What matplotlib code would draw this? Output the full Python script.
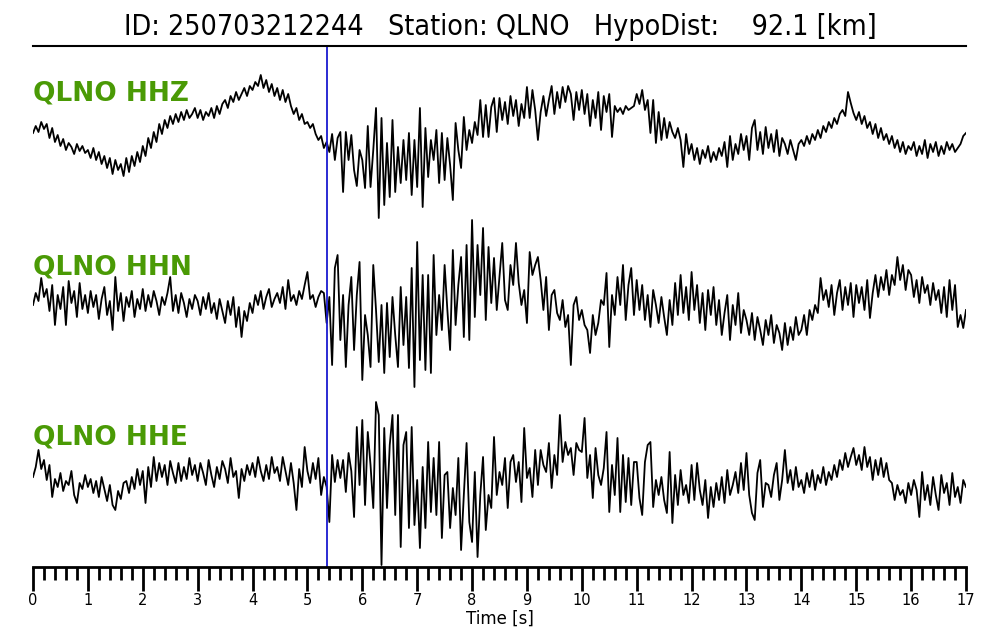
import numpy as np
import matplotlib
matplotlib.use("Agg")
import matplotlib.pyplot as plt

# datos (amplitud relativa, 20 muestras por segundo)
dt = 0.05
t_pick = 5.36
title = "ID: 250703212244   Station: QLNO   HypoDist:    92.1 [km]"
labels = ["QLNO HHZ", "QLNO HHN", "QLNO HHE"]

hhz = [
    -3, 4, -2, 8, 1, 6, -8, 2, -12, -5, -16, -9, -20, -13, -17, -24, -14, -21, -16, -23,
    -20, -28, -18, -30, -22, -34, -26, -38, -28, -44, -30, -40, -34, -46, -28, -42, -26, -36, -22, -32,
    -16, -26, -8, -18, -2, -12, 6, -4, 10, 2, 14, 6, 16, 8, 18, 10, 20, 12, 16, 22,
    12, 20, 10, 18, 14, 22, 12, 24, 16, 26, 30, 22, 34, 28, 38, 30, 36, 42, 34, 44,
    40, 48, 44, 55, 42, 50, 38, 46, 34, 42, 30, 40, 28, 36, 24, 16, 22, 10, 16, 6,
    8, 2, 6, -4, -10, -6, -18, -12, -22, -4, -30, -8, -2, -62, -2, -30, -5, -40, -56, -20,
    -30, -58, 4, -57, -20, 22, -88, 12, -75, -13, -67, 10, -62, -17, -53, -10, -50, -3, -65, -10,
    -57, 22, -77, 2, -47, -10, -30, 0, -53, -3, -50, -8, -35, -70, 7, -20, -38, 13, -20, 0,
    -13, 8, -5, 30, -7, 25, -7, 23, 32, -2, 32, 10, 28, 6, 34, 14, 30, 4, 26, 12,
    43, 12, 40, 20, -10, 18, 34, 14, 30, 44, 16, 38, 22, 43, 28, 44, 36, 10, 38, 20,
    40, 16, 36, 4, 30, 12, 38, 0, 34, 18, 36, -7, 24, 18, 22, 16, 24, 20, 22, 24,
    36, 26, 40, 20, 30, -3, 30, -13, 18, -10, 12, -8, 8, -2, -8, 2, -10, -37, -4, -24,
    -14, -30, -18, -34, -20, -28, -16, -32, -22, -30, -18, -26, -12, -37, -6, -30, -14, -24, -4, -20,
    -6, -30, 2, 10, -20, -2, -24, 3, -18, -4, -22, 0, -26, -8, -14, -24, -10, -20, -30, -14,
    -10, -16, -6, -14, -4, -10, 0, -8, 4, -2, 8, 2, 12, 6, 16, 20, 14, 38, 27, 17,
    10, 18, 6, 14, 2, 8, -4, 6, -8, 2, -10, -4, -14, -6, -18, -10, -22, -12, -24, -16,
    -20, -12, -26, -16, -24, -10, -28, -14, -22, -12, -26, -16, -24, -12, -20, -14, -22, -18, -14, -6,
    -3,
]

hhn = [
    0, 12, 4, 27, 8, 16, -6, 20, -20, 10, -4, 18, -20, 24, 2, 14, -12, 22, -4, 10,
    -8, 14, -2, 10, -14, 6, 18, -10, 4, -25, 28, -6, 12, -16, 8, -2, 14, -12, 6, -4,
    16, -6, 10, -2, 14, 4, -10, 8, 0, 12, 28, -6, 10, -8, 12, 2, -12, 6, -4, 10,
    4, -10, 8, -4, 12, -8, 2, -14, 6, -6, -18, 4, -10, 8, -22, -2, -32, -6, -16, 2,
    -8, 10, 0, 14, -4, 8, 16, -2, 6, 12, 2, 18, -4, 25, 4, 10, 0, 14, 6, 20,
    33, 6, 10, -2, 8, 14, 12, -18, 8, -60, 37, 50, -35, 10, -62, 0, 28, -45, 10, 43,
    -75, -10, -30, -62, 40, -5, -57, 0, -68, 2, -52, 8, -30, -62, 18, -40, 8, -63, 37, -82,
    63, -55, 30, -65, 30, -68, 50, -30, 10, -25, 40, -5, -45, 55, -20, 20, 48, -32, 60, -35,
    85, -12, 60, 10, 77, -15, 58, 2, 47, -5, 28, 62, 5, -5, 40, 20, 62, 22, 0, 15,
    -18, 53, 30, 40, 48, 25, -5, 28, -25, 10, 15, -8, -15, 5, -22, -10, -60, 0, 8, -15,
    -5, -20, -25, -48, -10, -30, -18, 5, 0, 32, -42, 10, -10, 28, 0, 40, -15, 20, 37, -10,
    25, -5, 20, -15, 10, -22, 15, 0, -18, 8, -12, -30, 5, -20, 22, -10, 30, -8, 18, -15,
    33, -5, 20, -18, 12, -25, 15, -10, 18, -20, 5, -30, -8, 10, -35, 0, -20, 12, -28, -5,
    -15, -30, -8, -35, -12, -25, -40, -15, -30, -10, -38, -20, -28, -45, -18, -40, -22, -35, -12, -30,
    -25, -10, -30, -5, -15, 0, -8, 27, 5, 15, -2, 20, -10, 12, 25, -5, 18, 0, 22, -12,
    20, 2, 18, -5, 25, -13, 12, 30, 8, 28, 15, 35, 10, 30, 20, 48, 25, 40, 15, 35,
    30, 8, 25, 2, 28, 12, 20, 0, 22, 5, 15, -8, 18, -12, 25, -5, 20, -22, -10, -23,
    -5,
]

hhe = [
    -2, 8, 25, 6, 15, -5, 10, -22, -4, -12, 2, -16, -6, -10, 4, -20, -28, -8, -14, 0,
    -12, -4, -18, -6, -22, -2, -14, -26, -10, -30, -35, -16, -24, -8, -6, -18, -2, -14, 6, -10,
    4, -28, 8, -12, 18, -6, 12, -2, 10, -10, 14, 2, -8, 12, -6, 8, -4, 17, 0, 10,
    -6, 12, 2, -10, 15, 0, -12, 8, -4, 14, 6, -8, 17, -2, 4, -23, 6, -6, 10, 0,
    12, -2, 18, 4, -6, 10, -4, 18, 2, 8, -6, 18, 4, -10, 12, -8, -35, 6, -12, 28,
    4, -8, 12, -4, 17, -20, -2, -12, -47, 20, -7, 15, -3, 15, -17, 22, 4, -42, 48, -10,
    55, -30, 43, 10, -33, 73, 60, -90, 47, -33, 30, 60, -40, 60, -72, 30, 43, -53, 48, -50,
    -5, -73, 8, -53, 33, -37, 17, -40, 33, -63, 0, 3, -53, -13, -40, 17, -75, -20, 32, -47,
    -67, 3, -82, -20, 18, -55, -20, -33, 38, -20, 3, -10, 17, -33, 13, 20, -7, 13, -27, 47,
    -3, 7, -22, 25, -10, 25, 10, 3, 32, -13, 20, 0, 60, 13, 33, 20, 27, 0, 32, 25,
    23, 57, -3, 20, -23, 27, 0, -10, 7, 43, -37, 10, -20, 37, -37, 20, -27, 17, -30, 13,
    13, -23, -40, 13, 30, 33, -32, -5, -20, -2, -25, -38, 23, -48, 0, -30, 5, -20, -10, -28,
    10, -25, 12, -15, -30, -5, -43, -12, -32, -8, -25, -2, -28, 5, -20, -10, 3, -18, 12, -15,
    22, -20, -38, -45, 2, 15, -32, -8, -10, -22, 0, 12, -25, -5, 25, -8, 5, -15, 8, -12,
    -5, -18, 2, -12, 5, -15, 0, -8, 8, -10, 3, -5, 10, -2, 15, 5, 22, 8, 18, 27,
    10, 20, 5, 28, 8, 18, -5, 15, 0, 17, -2, 12, -5, -8, -25, -10, -20, -15, -28, -8,
    -20, -5, -15, -42, 3, -25, -10, -30, -2, -20, -35, 0, -18, -8, -30, 2, -22, -12, -28, -5,
    -12,
]

traces = [hhz, hhn, hhe]
offsets = [437, 262, 92]
green = "#4a9a05"

fig = plt.figure(figsize=(10, 6.4), dpi=100)
ax = fig.add_axes([0.033, 73 / 640, 0.933, 521 / 640])

for tr, off, lab in zip(traces, offsets, labels):
    t = np.arange(len(tr)) * dt
    ax.plot(t, off + np.array(tr), color="black", lw=1.3)
    ax.text(0, off + 37, lab, color=green, fontsize=19, fontweight="bold",
            ha="left", va="center")

ax.axvline(t_pick, color="#1a1ad0", lw=1.3)

ax.set_xlim(0, 17)
ax.set_ylim(0, 521)
ax.spines["left"].set_visible(False)
ax.spines["right"].set_visible(False)
ax.spines["top"].set_linewidth(1.5)
ax.spines["bottom"].set_linewidth(2)
ax.set_yticks([])
ax.set_xticks(np.arange(0, 18, 1))
ax.set_xticks(np.arange(0, 17.01, 0.2), minor=True)
ax.tick_params(axis="x", which="major", length=17, width=2, labelsize=10.5, pad=2)
ax.tick_params(axis="x", which="minor", length=9, width=2)
ax.set_xlabel("Time [s]", fontsize=12, labelpad=1)

fig.text(0.5, 1 - 27 / 640, title, ha="center", va="center", fontsize=20.5,
         fontstretch="condensed")

fig.savefig("out.png", dpi=100)
